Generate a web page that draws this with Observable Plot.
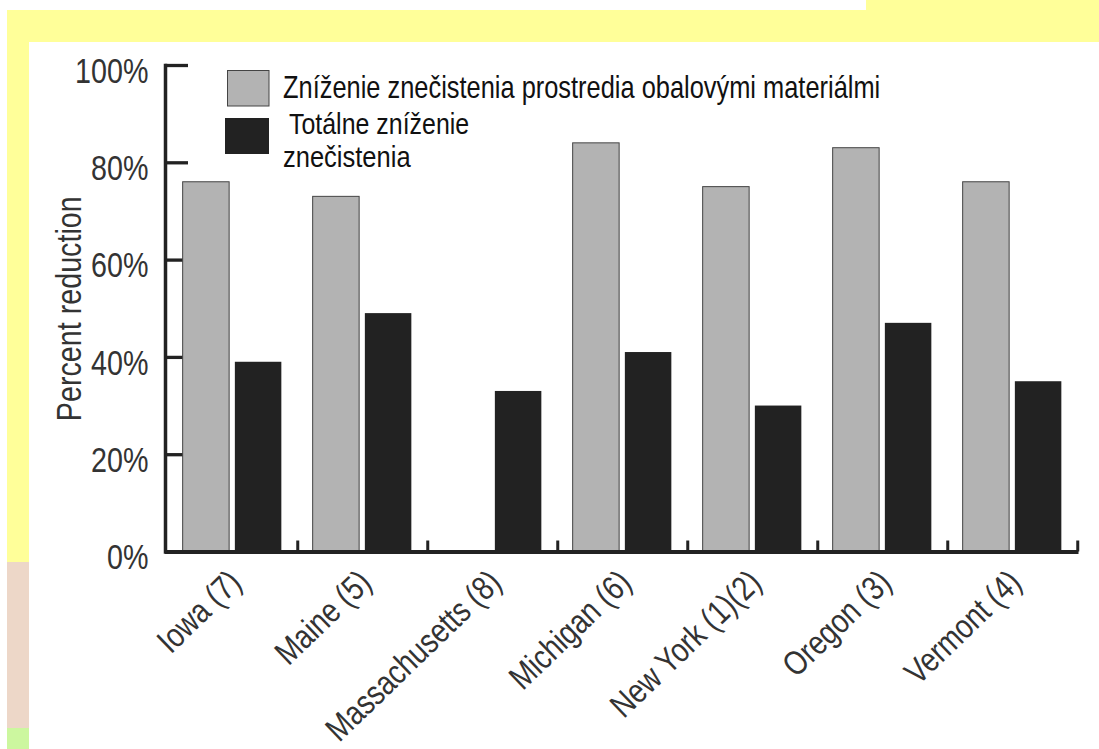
<!DOCTYPE html>
<html>
<head>
<meta charset="utf-8">
<script src="https://cdn.jsdelivr.net/npm/d3@7"></script>
<script src="https://cdn.jsdelivr.net/npm/@observablehq/plot@0.6"></script>
<style>
html, body { margin: 0; padding: 0; background: #fff; }
#page { position: relative; width: 1099px; height: 749px; overflow: hidden; background: #fff;
        font-family: 'Liberation Sans', Arial, sans-serif; }
.bg { position: absolute; }
#chart { position: absolute; left: 30px; top: 42px; }
#legend { position: absolute; left: 0; top: 0; pointer-events: none; }
</style>
</head>
<body>
<div id="page">
  <div class="bg" style="left:7px;top:10px;width:1092px;height:32px;background:#ffff99"></div>
  <div class="bg" style="left:866px;top:0;width:233px;height:10px;background:#ffff99"></div>
  <div class="bg" style="left:7px;top:42px;width:22px;height:520px;background:#ffff99"></div>
  <div class="bg" style="left:7px;top:562px;width:22px;height:166px;background:#edd7c8"></div>
  <div class="bg" style="left:7px;top:728px;width:22px;height:21px;background:#ccf79f"></div>
  <div id="chart"></div>
</div>
<script>
// ---- data ----
const states = ["Iowa (7)", "Maine (5)", "Massachusetts (8)", "Michigan (6)", "New York (1)(2)", "Oregon (3)", "Vermont (4)"];
const packagingReduction = [76, 73, null, 84, 75, 83, 76];
const totalReduction = [39, 49, 33, 41, 30, 47, 35];
const seriesNames = ["Zníženie znečistenia prostredia obalovými materiálmi", "Totálne zníženie znečistenia"];
const legendLines = [["Zníženie znečistenia prostredia obalovými materiálmi"], ["Totálne zníženie", "znečistenia"]];
const yTicks = [0, 20, 40, 60, 80, 100];
const yLabel = "Percent reduction";
const colors = ["#b3b3b3", "#222222"];

// ---- layout ----
const width = 1069, height = 707, mL = 135, mR = 20.5, mT = 23, mB = 197.5;
const frameW = width - mL - mR;
const bw = frameW / states.length;
const inner = d3.scaleBand().domain(seriesNames).range([0, bw]).paddingInner(0.1).paddingOuter(0.3);
const FONT = "'Liberation Sans', Arial, sans-serif";
const SX = 0.82; // condensed lettering

const rows = states.flatMap((s, i) => [
  {state: s, series: seriesNames[0], value: packagingReduction[i]},
  {state: s, series: seriesNames[1], value: totalReduction[i]}
]);

const barMark = (k) => Plot.barY(
  rows.filter(d => d.series === seriesNames[k] && d.value != null),
  {
    x: "state", y: "value", fill: "series",
    insetLeft: inner(seriesNames[k]),
    insetRight: bw - inner(seriesNames[k]) - inner.bandwidth(),
    stroke: k === 0 ? "#444" : "none", strokeWidth: 1
  }
);

const chart = Plot.plot({
  width, height, marginLeft: mL, marginRight: mR, marginTop: mT, marginBottom: mB,
  style: {background: "transparent", fontFamily: FONT, color: "#222", overflow: "visible"},
  x: {domain: states, padding: 0, label: null},
  y: {domain: [0, 100], label: null},
  color: {domain: seriesNames, range: colors},
  marks: [
    Plot.ruleY(yTicks, {stroke: "#222", strokeWidth: 3.3, insetRight: frameW - 23}),
    barMark(0),
    barMark(1),
    Plot.ruleY([0], {stroke: "#222", strokeWidth: 4}),
    Plot.frame({anchor: "left", stroke: "#222", strokeWidth: 3.5}),
    Plot.ruleX(states, {x: d => d, dx: bw / 2, y1: 0, y2: 0, insetTop: -11, stroke: "#222", strokeWidth: 3}),
    Plot.axisY(yTicks, {tickSize: 0, tickPadding: 17, tickFormat: d => d + "%", fontSize: 35, fill: "#333", label: null, dy: 6}),
    Plot.axisX({tickSize: 0, tickRotate: -44, tickPadding: 25, fontSize: 34, fill: "#333", label: null, dx: 3}),
    Plot.text([yLabel], {text: d => d, frameAnchor: "left", rotate: -90, dx: -96, textAnchor: "middle", fontSize: 35, fill: "#333"})
  ]
});
document.getElementById("chart").appendChild(chart);

// ---- legend (inside the plot area, top-left) ----
const legend = d3.create("svg")
  .attr("id", "legend")
  .attr("width", 1099).attr("height", 749);
legend.append("rect").attr("x", 227.5).attr("y", 70.5).attr("width", 41.5).attr("height", 35.5)
  .attr("fill", colors[0]).attr("stroke", "#444").attr("stroke-width", 1);
legend.append("rect").attr("x", 225).attr("y", 118).attr("width", 44).attr("height", 36)
  .attr("fill", colors[1]);
const legendText = [
  {t: legendLines[0][0], x: 283, y: 97.5, size: 31, sx: SX},
  {t: legendLines[1][0], x: 289, y: 134, size: 29, sx: 0.86},
  {t: legendLines[1][1], x: 283, y: 167, size: 29, sx: 0.88}
];
legend.selectAll("text.lg").data(legendText).join("text")
  .attr("class", "lg")
  .attr("transform", d => `translate(${d.x},${d.y}) scale(${d.sx},1)`)
  .attr("font-family", FONT).attr("font-size", d => d.size).attr("fill", "#111")
  .text(d => d.t);
document.getElementById("page").appendChild(legend.node());

// ---- condense the chart lettering horizontally (along its own baseline) ----
chart.querySelectorAll("text").forEach(t => {
  const x = parseFloat(t.getAttribute("x")) || 0;
  const tr = t.getAttribute("transform") || "";
  t.setAttribute("transform", `${tr} translate(${x},0) scale(${SX},1) translate(${-x},0)`);
});
</script>
</body>
</html>
